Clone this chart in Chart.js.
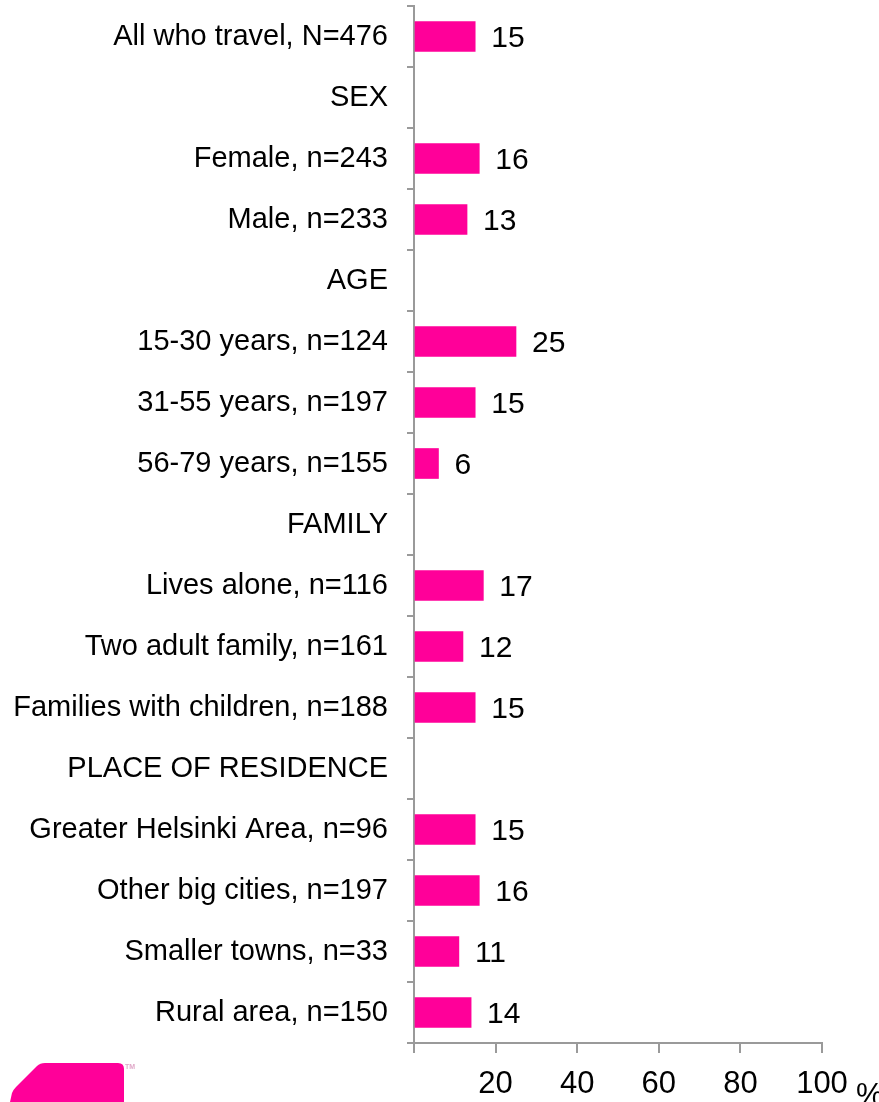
<!DOCTYPE html>
<html lang="en">
<head>
    <meta charset="UTF-8" />
    <title>Travel share</title>
    <style>
        body {
            margin: 0;
            background: #fff;
        }
    </style>
    <script src="https://cdn.jsdelivr.net/npm/chart.js"></script>
</head>

<body>
    <canvas id="chart" width="879" height="1102"></canvas>

    <script>
        const categories = [
            "All who travel, N=476",
            "SEX",
            "Female, n=243",
            "Male, n=233",
            "AGE",
            "15-30 years, n=124",
            "31-55 years, n=197",
            "56-79 years, n=155",
            "FAMILY",
            "Lives alone, n=116",
            "Two adult family, n=161",
            "Families with children, n=188",
            "PLACE OF RESIDENCE",
            "Greater Helsinki Area, n=96",
            "Other big cities, n=197",
            "Smaller towns, n=33",
            "Rural area, n=150"
        ];
        const values = [15, null, 16, 13, null, 25, 15, 6, null, 17, 12, 15, null, 15, 16, 11, 14];
        const xTicks = [0, 20, 40, 60, 80, 100];
        const unitLabel = "%";

        const pink = "#FF0099";
        const axisGray = "#9a9a9a";

        // numbers at the end of each bar
        const valueLabels = {
            id: 'valueLabels',
            afterDatasetsDraw(chart) {
                const ctx = chart.ctx;
                const meta = chart.getDatasetMeta(0);
                ctx.save();
                ctx.font = '30px "Liberation Sans", Arial, sans-serif';
                ctx.fillStyle = '#000';
                ctx.textBaseline = 'middle';
                ctx.textAlign = 'left';
                meta.data.forEach((bar, i) => {
                    if (values[i] === null) return;
                    ctx.fillText(values[i], bar.x + 16, bar.y + 2);
                });
                ctx.restore();
            }
        };

        // x tick labels, "%" unit and the logo in the corner
        const extras = {
            id: 'extras',
            afterDraw(chart) {
                const ctx = chart.ctx;
                const xScale = chart.scales.x;
                ctx.save();
                ctx.font = '31px "Liberation Sans", Arial, sans-serif';
                ctx.fillStyle = '#000';
                ctx.textBaseline = 'alphabetic';
                ctx.textAlign = 'center';
                xTicks.forEach(v => {
                    if (v === 0) return;
                    ctx.fillText(String(v), xScale.getPixelForValue(v), 1093);
                });
                ctx.textAlign = 'left';
                ctx.fillText(unitLabel, 856, 1105);

                ctx.fillStyle = pink;
                ctx.beginPath();
                ctx.moveTo(10, 1102);
                ctx.lineTo(12, 1093);
                ctx.quadraticCurveTo(13, 1090, 16, 1087);
                ctx.lineTo(37, 1066);
                ctx.quadraticCurveTo(40, 1063, 45, 1063);
                ctx.lineTo(118, 1063);
                ctx.quadraticCurveTo(124, 1063, 124, 1069);
                ctx.lineTo(124, 1102);
                ctx.closePath();
                ctx.fill();

                ctx.fillStyle = '#e0a8c8';
                ctx.font = 'bold 7px Arial, sans-serif';
                ctx.fillText('TM', 125, 1069);
                ctx.restore();
            }
        };

        new Chart(document.getElementById('chart'), {
            type: 'bar',
            data: {
                labels: categories,
                datasets: [{
                    data: values,
                    backgroundColor: pink,
                    borderWidth: 0,
                    barThickness: 30
                }]
            },
            options: {
                indexAxis: 'y',
                responsive: false,
                animation: false,
                layout: {
                    padding: { top: 6, right: 57, bottom: 0, left: 0 }
                },
                plugins: {
                    legend: { display: false },
                    tooltip: { enabled: false }
                },
                scales: {
                    y: {
                        afterFit(scale) {
                            scale.width = 414;
                            scale.paddingTop = 0;
                            scale.paddingBottom = 0;
                        },
                        border: { color: axisGray, width: 2 },
                        grid: {
                            drawOnChartArea: false,
                            tickLength: 7,
                            color: axisGray,
                            lineWidth: 2
                        },
                        ticks: {
                            color: '#000',
                            padding: 19,
                            font: { family: '"Liberation Sans", Arial, sans-serif', size: 29 }
                        }
                    },
                    x: {
                        min: xTicks[0],
                        max: xTicks[xTicks.length - 1],
                        afterFit(scale) {
                            scale.height = 59;
                            scale.paddingLeft = 0;
                            scale.paddingRight = 0;
                        },
                        afterBuildTicks(scale) {
                            scale.ticks = xTicks.map(v => ({ value: v }));
                        },
                        border: { color: axisGray, width: 2 },
                        grid: {
                            drawOnChartArea: false,
                            tickLength: 10,
                            color: axisGray,
                            lineWidth: 2
                        },
                        ticks: {
                            maxRotation: 0,
                            callback: () => ''
                        }
                    }
                }
            },
            plugins: [valueLabels, extras]
        });
    </script>
</body>
</html>
